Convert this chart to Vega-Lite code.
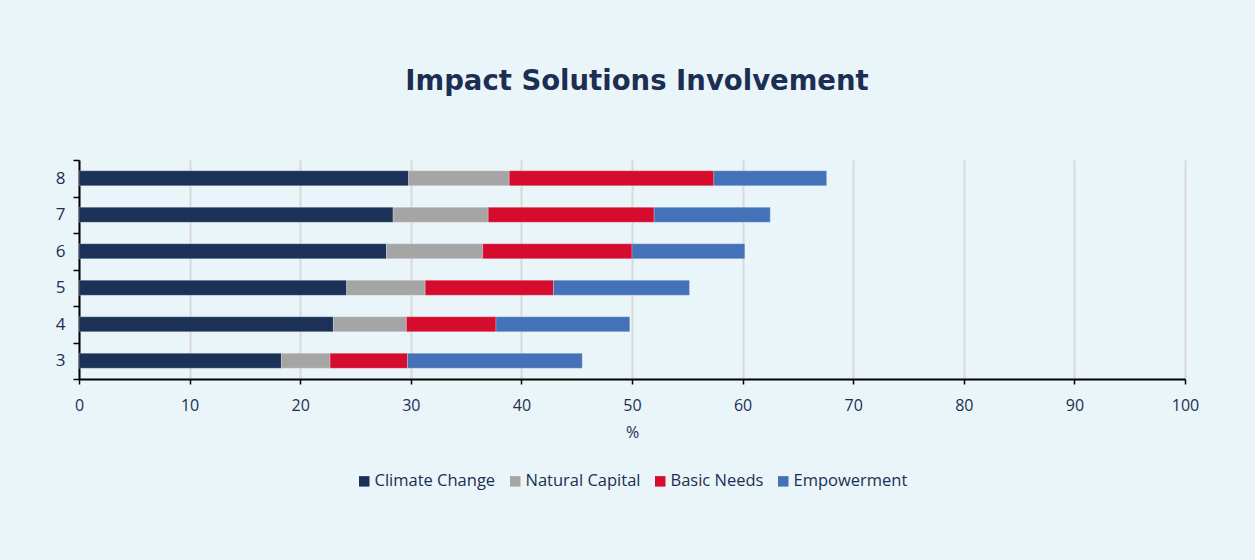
{
  "$schema": "https://vega.github.io/schema/vega-lite/v6.json",
  "autosize": {"type": "none"},
  "width": 1106,
  "height": 219,
  "padding": {"left": 79, "top": 160, "right": 70, "bottom": 181},
  "background": "#EAF5FA",
  "title": {
    "text": "Impact Solutions Involvement",
    "font": "DejaVu Sans",
    "fontSize": 27.5,
    "fontWeight": "bold",
    "color": "#1C2E52",
    "anchor": "middle",
    "dx": 5,
    "offset": 56
  },
  "data": {
    "values": [
      {"score": "8", "category": "Climate Change", "k": 1, "value": 29.8},
      {"score": "8", "category": "Natural Capital", "k": 2, "value": 9.1},
      {"score": "8", "category": "Basic Needs", "k": 3, "value": 18.5},
      {"score": "8", "category": "Empowerment", "k": 4, "value": 10.2},
      {"score": "7", "category": "Climate Change", "k": 1, "value": 28.4},
      {"score": "7", "category": "Natural Capital", "k": 2, "value": 8.6},
      {"score": "7", "category": "Basic Needs", "k": 3, "value": 15.0},
      {"score": "7", "category": "Empowerment", "k": 4, "value": 10.5},
      {"score": "6", "category": "Climate Change", "k": 1, "value": 27.8},
      {"score": "6", "category": "Natural Capital", "k": 2, "value": 8.7},
      {"score": "6", "category": "Basic Needs", "k": 3, "value": 13.5},
      {"score": "6", "category": "Empowerment", "k": 4, "value": 10.2},
      {"score": "5", "category": "Climate Change", "k": 1, "value": 24.2},
      {"score": "5", "category": "Natural Capital", "k": 2, "value": 7.1},
      {"score": "5", "category": "Basic Needs", "k": 3, "value": 11.6},
      {"score": "5", "category": "Empowerment", "k": 4, "value": 12.3},
      {"score": "4", "category": "Climate Change", "k": 1, "value": 23.0},
      {"score": "4", "category": "Natural Capital", "k": 2, "value": 6.6},
      {"score": "4", "category": "Basic Needs", "k": 3, "value": 8.1},
      {"score": "4", "category": "Empowerment", "k": 4, "value": 12.1},
      {"score": "3", "category": "Climate Change", "k": 1, "value": 18.3},
      {"score": "3", "category": "Natural Capital", "k": 2, "value": 4.4},
      {"score": "3", "category": "Basic Needs", "k": 3, "value": 7.0},
      {"score": "3", "category": "Empowerment", "k": 4, "value": 15.8}
    ]
  },
  "mark": {"type": "bar", "height": {"band": 0.41}, "stroke": "#FFFFFF", "strokeWidth": 0.4, "strokeOpacity": 0.6},
  "encoding": {
    "y": {
      "field": "score",
      "type": "ordinal",
      "sort": "descending",
      "scale": {"paddingInner": 0, "paddingOuter": 0},
      "axis": {
        "title": null,
        "labelFont": "Open Sans",
        "labelFontSize": 17,
        "labelColor": "#1C2E52",
        "labelPadding": 8,
        "tickBand": "extent",
        "tickColor": "#000000",
        "tickSize": 6,
        "tickWidth": 1.5,
        "domainColor": "#000000",
        "domainWidth": 2,
        "grid": false
      }
    },
    "x": {
      "field": "value",
      "type": "quantitative",
      "stack": "zero",
      "scale": {"domain": [0, 100], "nice": false},
      "axis": {
        "title": "%",
        "titleFont": "Open Sans",
        "titleFontSize": 16,
        "titleFontWeight": "normal",
        "titleColor": "#1C2E52",
        "titlePadding": 11,
        "labelFont": "Open Sans",
        "labelFontSize": 16,
        "labelColor": "#1C2E52",
        "labelPadding": 13,
        "labelFlush": false,
        "values": [0, 10, 20, 30, 40, 50, 60, 70, 80, 90, 100],
        "tickColor": "#000000",
        "tickSize": 5,
        "tickWidth": 1.5,
        "domainColor": "#000000",
        "domainWidth": 2,
        "grid": true,
        "gridColor": "#D9D9D9",
        "gridWidth": 2
      }
    },
    "color": {
      "field": "category",
      "type": "nominal",
      "sort": ["Climate Change", "Natural Capital", "Basic Needs", "Empowerment"],
      "scale": {
        "domain": ["Climate Change", "Natural Capital", "Basic Needs", "Empowerment"],
        "range": ["#1B3158", "#A5A5A5", "#D50C2D", "#4472B8"]
      },
      "legend": {
        "title": null,
        "orient": "bottom",
        "direction": "horizontal",
        "offset": 33,
        "symbolType": "square",
        "symbolSize": 110,
        "symbolStrokeWidth": 0,
        "labelFont": "Open Sans",
        "labelFontSize": 16.5,
        "labelColor": "#1C2E52",
        "labelOffset": 2,
        "columnPadding": 11
      }
    },
    "order": {"field": "k", "type": "quantitative"}
  },
  "config": {
    "view": {"stroke": null},
    "legend": {"layout": {"bottom": {"anchor": "middle"}}}
  }
}
